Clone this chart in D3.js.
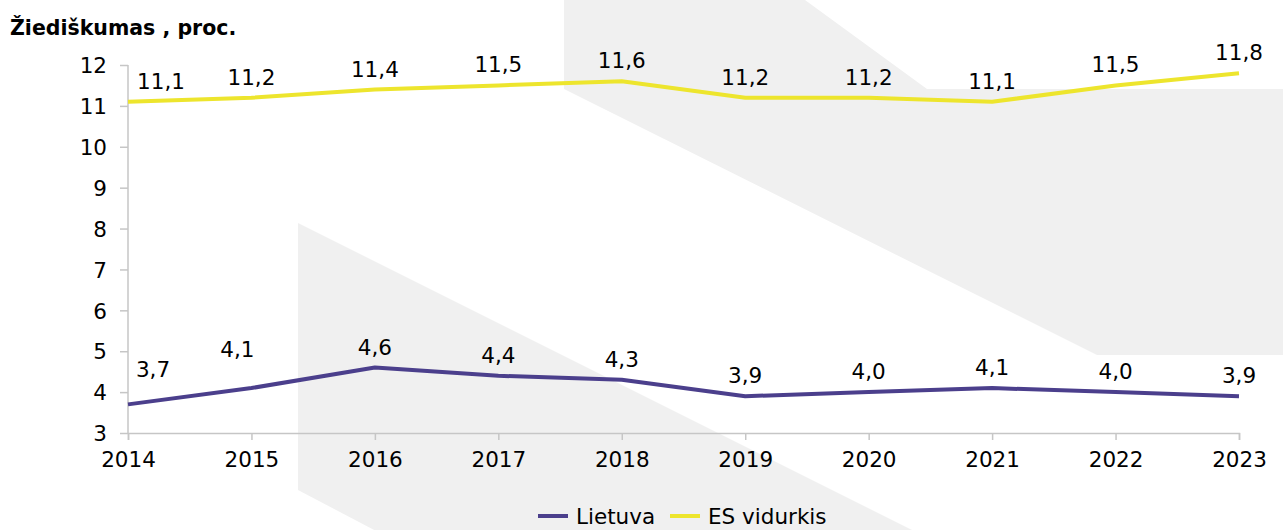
<!DOCTYPE html>
<html>
<head>
<meta charset="utf-8">
<script src="https://cdn.jsdelivr.net/npm/d3@7"></script>
<style>
  body { margin: 0; background: #fff; }
  svg { display: block; font-family: Verdana, "DejaVu Sans", sans-serif; }
</style>
</head>
<body>
<script>
// data
var years = [2014, 2015, 2016, 2017, 2018, 2019, 2020, 2021, 2022, 2023];
var lietuva = [3.7, 4.1, 4.6, 4.4, 4.3, 3.9, 4.0, 4.1, 4.0, 3.9];
var esVidurkis = [11.1, 11.2, 11.4, 11.5, 11.6, 11.2, 11.2, 11.1, 11.5, 11.8];
var yTicks = [3, 4, 5, 6, 7, 8, 9, 10, 11, 12];
var seriesNames = ["Lietuva", "ES vidurkis"];

var W = 1283, H = 530;
var margin = {left: 128, right: 44, top: 65, bottom: 97};
var fontFam = "Verdana, 'DejaVu Sans', sans-serif";
var fs = 21.5;

var colLt = "#4b3f8c";
var colEs = "#ede52d";
var axisCol = "#c6c6c6";

var svg = d3.select("body").append("svg")
    .attr("width", W)
    .attr("height", H);

// decorative grey background bands
var bg = svg.append("g").attr("fill", "#f0f0f0");
bg.append("polygon")
    .attr("points", [[564,0],[805,0],[927,89],[1283,89],[1283,355],[1097,355],[564,89]].join(" "));
bg.append("polygon")
    .attr("points", [[298,223],[916,532],[378,532],[298,490]].join(" "));

var x = d3.scaleLinear()
    .domain([years[0], years[years.length - 1]])
    .range([margin.left, W - margin.right]);

var y = d3.scaleLinear()
    .domain([3, 12])
    .range([H - margin.bottom, margin.top]);

// y axis
var yAxis = svg.append("g")
    .attr("transform", "translate(" + margin.left + ",0)")
    .call(d3.axisLeft(y).tickValues(yTicks).tickSize(8).tickPadding(13).tickFormat(d3.format("d")));

// x axis
var xAxis = svg.append("g")
    .attr("transform", "translate(0," + (H - margin.bottom) + ")")
    .call(d3.axisBottom(x).tickValues(years).tickSize(7).tickPadding(12).tickFormat(d3.format("d")));

[yAxis, xAxis].forEach(function(a) {
  a.attr("font-family", fontFam).attr("font-size", fs);
  a.select(".domain").attr("stroke", axisCol).attr("stroke-width", 1.5);
  a.selectAll(".tick line").attr("stroke", axisCol).attr("stroke-width", 1.5);
  a.selectAll(".tick text").attr("fill", "#000");
});
yAxis.select(".domain").attr("d", "M0," + y(3) + "V" + y(12));
yAxis.selectAll(".tick text").attr("dy", "0.36em");
xAxis.selectAll(".tick text").attr("dy", "0.7em");

// title
svg.append("text")
    .attr("x", 10)
    .attr("y", 35)
    .style("font-size", "20.5px")
    .style("font-weight", "bold")
    .text("Žiediškumas , proc.");

var line = d3.line()
    .x(function(d, i) { return x(years[i]); })
    .y(function(d) { return y(d); });

var fmt = function(v) { return d3.format(".1f")(v).replace(".", ","); };

// label nudges (Excel-like manual placements)
var nudgeEs = {2014: [33, 0]};
var nudgeLt = {2014: [25, -14], 2015: [-14, -18]};

function drawSeries(vals, col, nudge) {
  svg.append("path")
      .datum(vals)
      .attr("fill", "none")
      .attr("stroke", col)
      .attr("stroke-width", 4)
      .attr("stroke-linejoin", "round")
      .attr("d", line);

  svg.append("g").selectAll("text")
      .data(vals)
      .join("text")
      .attr("x", function(d, i) { return x(years[i]) + ((nudge[years[i]] || [0, 0])[0]); })
      .attr("y", function(d, i) { return y(d) - 13 + ((nudge[years[i]] || [0, 0])[1]); })
      .attr("text-anchor", "middle")
      .style("font-size", fs + "px")
      .text(fmt);
}

drawSeries(esVidurkis, colEs, nudgeEs);
drawSeries(lietuva, colLt, nudgeLt);

// legend
var legend = svg.append("g").attr("transform", "translate(538,516)");
var legCols = [colLt, colEs];
var legX = [0, 132];
seriesNames.forEach(function(name, i) {
  var g = legend.append("g").attr("transform", "translate(" + legX[i] + ",0)");
  g.append("line")
      .attr("x1", 0).attr("x2", 30)
      .attr("y1", 0).attr("y2", 0)
      .attr("stroke", legCols[i])
      .attr("stroke-width", 4);
  g.append("text")
      .attr("x", 38)
      .attr("y", 0)
      .attr("dy", "0.36em")
      .style("font-size", fs + "px")
      .text(name);
});
</script>
</body>
</html>
